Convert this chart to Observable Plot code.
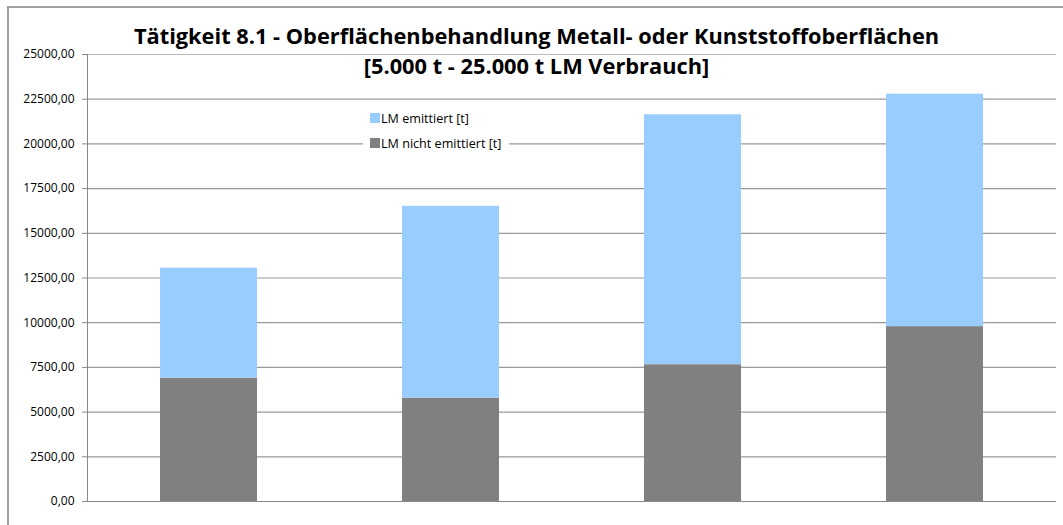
<!DOCTYPE html>
<html>
<head>
<meta charset="utf-8">
<script src="https://cdn.jsdelivr.net/npm/d3@7"></script>
<script src="https://cdn.jsdelivr.net/npm/@observablehq/plot@0.6"></script>
<style>
  html, body { margin: 0; padding: 0; background: #fff; }
  #wrap { position: relative; width: 1063px; height: 525px; overflow: hidden; font-family: "Open Sans", sans-serif; }
  #border { position: absolute; left: 7px; top: 6px; width: 1070px; height: 540px; border: 2px solid #a0a0a0; box-sizing: border-box; pointer-events: none; }
  #title { position: absolute; left: 0; width: 1073px; top: 21px; text-align: center; font-weight: bold; font-size: 21.8px; line-height: 30px; color: #000; white-space: nowrap; }
  #legend { position: absolute; left: 363px; top: 102px; width: 146px; height: 52px; background: #fff; font-size: 12.6px; color: #000; }
  .item { position: absolute; left: 7px; height: 12px; display: flex; align-items: center; white-space: nowrap; }
  .sw { width: 10px; height: 10px; margin-right: 1px; flex: none; }
  #chart { position: absolute; left: 0; top: 0; }
</style>
</head>
<body>
<div id="wrap">
  <div id="chart"></div>
  <div id="border"></div>
  <div id="title">Tätigkeit 8.1 - Oberflächenbehandlung Metall- oder Kunststoffoberflächen<br>[5.000 t - 25.000 t LM Verbrauch]</div>
  <div id="legend"></div>
</div>
<script>
// Data
const categories = ["1", "2", "3", "4"];
const seriesNames = ["LM nicht emittiert [t]", "LM emittiert [t]"];
const nichtEmittiert = [6900, 5780, 7650, 9780];
const emittiert = [6150, 10730, 13980, 13000];
const yTicks = [0, 2500, 5000, 7500, 10000, 12500, 15000, 17500, 20000, 22500, 25000];
const seriesColors = ["#808080", "#99CCFF"];

const rows = [];
categories.forEach((c, i) => rows.push({cat: c, series: seriesNames[0], value: nichtEmittiert[i]}));
categories.forEach((c, i) => rows.push({cat: c, series: seriesNames[1], value: emittiert[i]}));

const fmt = d => d.toFixed(2).replace(".", ",");

const plot = Plot.plot({
  width: 1063,
  height: 525,
  marginTop: 54,
  marginBottom: 24,
  marginLeft: 87,
  marginRight: 7,
  style: {fontFamily: "Open Sans, sans-serif", fontSize: "12px", color: "#000", background: "transparent"},
  x: {domain: categories, paddingInner: 0.6, paddingOuter: 0.3, axis: null},
  y: {domain: [0, 25000], label: null},
  color: {domain: seriesNames, range: seriesColors},
  marks: [
    Plot.gridY(yTicks.filter(d => d > 0 && d < 25000), {stroke: "#999", strokeOpacity: 1, strokeWidth: 1.2}),
    Plot.gridY([25000], {stroke: "#bbb", strokeOpacity: 1, strokeWidth: 1}),
    Plot.barY(rows, {x: "cat", y: "value", fill: "series"}),
    Plot.axisY({ticks: yTicks, tickFormat: fmt, tickSize: 5, tickPadding: 8, stroke: "#888", fontSize: 12, label: null}),
    Plot.frame({anchor: "left", stroke: "#888"}),
    Plot.ruleY([0], {stroke: "#888", strokeWidth: 1.2, insetLeft: -5})
  ]
});
document.getElementById("chart").appendChild(plot);

// Legend (series order: emitted on top)
const legend = document.getElementById("legend");
[[seriesNames[1], seriesColors[1], 10], [seriesNames[0], seriesColors[0], 35]].forEach(([name, col, top]) => {
  const it = document.createElement("div");
  it.className = "item";
  it.style.top = top + "px";
  const sw = document.createElement("span");
  sw.className = "sw";
  sw.style.background = col;
  const tx = document.createElement("span");
  tx.textContent = name;
  it.appendChild(sw);
  it.appendChild(tx);
  legend.appendChild(it);
});
</script>
</body>
</html>
